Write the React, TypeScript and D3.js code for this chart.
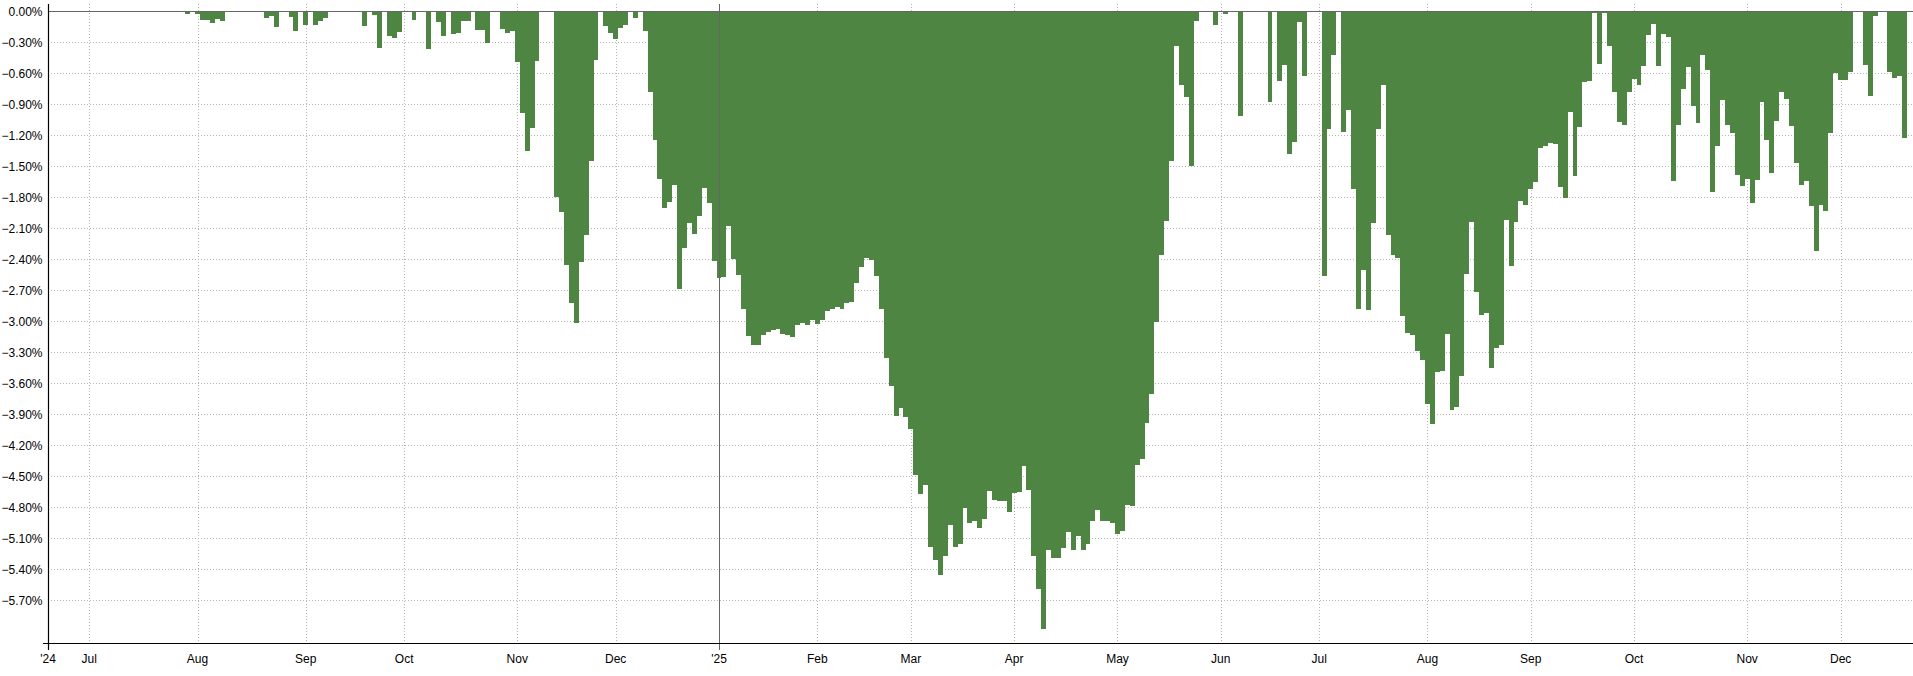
import React from 'react';
import * as d3 from 'd3';

const WIDTH = 1913;
const HEIGHT = 676;

// first trading day shown and exchange holidays (categories are trading days)
const START_DATE = '2024-06-18';
const HOLIDAYS = [
  '2024-06-19', '2024-07-04', '2024-09-02', '2024-11-28', '2024-12-25',
  '2025-01-01', '2025-01-09', '2025-01-20', '2025-02-17', '2025-04-18',
  '2025-05-26', '2025-06-19', '2025-07-04', '2025-09-01', '2025-11-27', '2025-12-25',
];

const MONTH_NAMES = ['Jan', 'Feb', 'Mar', 'Apr', 'May', 'Jun', 'Jul', 'Aug', 'Sep', 'Oct', 'Nov', 'Dec'];

const Y_TICKS = [0, -0.3, -0.6, -0.9, -1.2, -1.5, -1.8, -2.1, -2.4, -2.7, -3.0, -3.3, -3.6, -3.9, -4.2, -4.5, -4.8, -5.1, -5.4, -5.7];

// drawdown in percent, one value per trading day
const DRAWDOWN = [
  0, 0, 0, 0, 0, 0, 0, 0, 0, 0,
  0, 0, 0, 0, 0, 0, 0, 0, 0, 0,
  0, 0, 0, 0, 0, 0, 0, 0, -0.02, 0,
  -0.02, -0.08, -0.08, -0.11, -0.07, -0.09, 0, 0, 0, 0,
  0, 0, 0, 0, -0.06, -0.04, -0.15, 0, 0, -0.05,
  -0.185, 0, -0.13, 0, -0.127, -0.09, -0.06, 0, 0, 0,
  0, 0, 0, 0, -0.137, 0, -0.03, -0.35, 0, -0.234,
  -0.253, -0.195, 0, 0, -0.08, 0, 0, -0.36, 0, -0.1,
  -0.234, 0, -0.215, -0.205, -0.09, -0.09, 0, -0.176, -0.176, -0.3,
  0, 0, -0.166, -0.205, -0.185, -0.485, -0.98, -1.347, -1.124, -0.476,
  0, 0, 0, -1.79, -1.937, -2.453, -2.818, -3.01, -2.421, -2.163,
  -1.447, -0.469, 0, -0.137, -0.205, -0.266, -0.156, -0.127, 0, -0.06,
  0, -0.189, -0.776, -1.24, -1.62, -1.898, -1.84, -1.679, -2.68, -2.285,
  -2.043, -2.15, -1.976, -1.705, -1.85, -2.41, -2.576, -2.566, -2.076, -2.392,
  -2.55, -2.88, -3.14, -3.22, -3.22, -3.13, -3.1, -3.08, -3.07, -3.12,
  -3.13, -3.15, -3.03, -3.01, -3.03, -2.98, -3.02, -2.98, -2.9, -2.875,
  -2.86, -2.88, -2.82, -2.81, -2.62, -2.47, -2.38, -2.4, -2.56, -2.875,
  -3.35, -3.62, -3.91, -3.83, -3.925, -4.04, -4.48, -4.67, -4.58, -5.18,
  -5.31, -5.45, -5.27, -4.97, -5.175, -5.15, -4.8, -4.95, -4.925, -5.0,
  -4.91, -4.64, -4.725, -4.73, -4.73, -4.84, -4.66, -4.65, -4.4, -4.63,
  -5.27, -5.59, -5.975, -5.21, -5.29, -5.29, -5.19, -5.03, -5.21, -5.07,
  -5.21, -5.15, -4.925, -4.82, -4.93, -4.93, -4.95, -5.05, -5.025, -4.775,
  -4.78, -4.39, -4.33, -3.98, -3.7, -3.0, -2.35, -2.02, -1.445, -0.33,
  -0.71, -0.825, -1.49, -0.09, 0, 0, 0, -0.127, 0, -0.02,
  0, 0, -1.01, 0, 0, 0, 0, 0, -0.873, 0,
  -0.67, -0.515, -1.376, -1.26, -0.098, -0.62, 0, 0, 0, -2.556,
  -1.134, -0.418, 0, -1.163, -0.95, -1.715, -2.876, -2.5, -2.885, -2.047,
  -1.137, -0.711, -2.163, -2.356, -2.382, -2.944, -3.108, -3.13, -3.282, -3.369,
  -3.795, -3.99, -3.485, -3.476, -3.118, -3.853, -3.828, -3.524, -2.537, -2.034,
  -2.711, -2.934, -2.918, -3.447, -3.253, -3.224, -2.014, -2.46, -2.034, -1.83,
  -1.87, -1.715, -1.647, -1.318, -1.3, -1.27, -1.28, -1.7, -1.8, -0.973,
  -1.59, -1.115, -0.68, -0.67, -0.01, -0.505, -0.01, -0.33, -0.776, -1.066,
  -1.095, -0.776, -0.65, -0.709, -0.524, -0.224, -0.121, -0.524, -0.218, -0.244,
  -1.637, -1.095, -0.747, -0.537, -0.911, -1.076, -0.421, -0.563, -1.74, -1.3,
  -0.853, -1.098, -1.173, -1.579, -1.685, -1.62, -1.85, -1.627, -0.873, -1.24,
  -1.56, -1.056, -0.776, -0.844, -1.105, -1.463, -1.676, -1.637, -1.879, -2.315,
  -1.87, -1.927, -1.173, -0.592, -0.66, -0.66, -0.579, 0, 0, -0.515,
  -0.815, -0.04, 0, 0, -0.584, -0.64, -0.62, -1.22,
];

function buildTradingDays(start: string, count: number): Date[] {
  const hol = new Set(HOLIDAYS);
  const out: Date[] = [];
  const d = new Date(start + 'T00:00:00Z');
  while (out.length < count) {
    const wd = d.getUTCDay();
    const key = d.toISOString().slice(0, 10);
    if (wd !== 0 && wd !== 6 && !hol.has(key)) out.push(new Date(d.getTime()));
    d.setUTCDate(d.getUTCDate() + 1);
  }
  return out;
}

const FONT = '"Liberation Sans", Arial, sans-serif';

export default function App() {
  const dates = buildTradingDays(START_DATE, DRAWDOWN.length);

  const left = 48;
  const right = WIDTH;
  const top = 4;
  const bottom = 643;

  const x = d3.scaleLinear().domain([-0.39, DRAWDOWN.length + 0.7]).range([left, right]);
  const y = d3.scaleLinear().domain([-6.1086, 0.0755]).range([bottom, top]);

  // month ticks: first trading day of each month
  const ticks: { i: number; label: string; year: boolean }[] = [];
  dates.forEach((d, i) => {
    if (i === 0) return;
    const prev = dates[i - 1];
    if (d.getUTCMonth() !== prev.getUTCMonth()) {
      const m = d.getUTCMonth();
      const isYear = m === 0;
      ticks.push({
        i,
        label: isYear ? "'" + String(d.getUTCFullYear()).slice(2) : MONTH_NAMES[m],
        year: isYear,
      });
    }
  });
  const firstLabel = "'" + String(dates[0].getUTCFullYear()).slice(2);

  const fmt = (v: number) => d3.format('.2f')(v) + '%';
  const y0 = Math.floor(y(0));
  const barColor = '#4f8543';

  return (
    <div style={{ position: 'absolute', left: 0, top: 0, width: WIDTH, height: HEIGHT }}>
      <svg width={WIDTH} height={HEIGHT} style={{ display: 'block' }} fontFamily={FONT}>
        <rect x={0} y={0} width={WIDTH} height={HEIGHT} fill="#fff" />
        {/* horizontal grid */}
        {Y_TICKS.filter((v) => v !== 0).map((v) => {
          const yy = Math.floor(y(v)) + 0.5;
          return (
            <line key={'hg' + v} x1={left} x2={right} y1={yy} y2={yy}
              stroke="#b4b4b4" strokeWidth={1} strokeDasharray="1,2" />
          );
        })}
        {/* vertical grid */}
        {ticks.filter((t) => !t.year).map((t) => {
          const xx = Math.round(x(t.i)) + 0.5;
          return (
            <line key={'vg' + t.i} x1={xx} x2={xx} y1={top} y2={bottom}
              stroke="#b4b4b4" strokeWidth={1} strokeDasharray="1,2" />
          );
        })}
        {/* bars */}
        {DRAWDOWN.map((v, i) => {
          if (v === 0) return null;
          const x1 = Math.round(x(i - 0.5));
          const x2 = Math.round(x(i + 0.5));
          const yb = Math.round(y(v));
          return <rect key={'b' + i} x={x1} y={y0} width={x2 - x1} height={Math.max(1, yb - y0)} fill={barColor} />;
        })}
        {/* zero line */}
        <line x1={left} x2={right} y1={Math.floor(y(0)) + 0.5} y2={Math.floor(y(0)) + 0.5} stroke="#666" strokeWidth={1} />
        {/* year lines */}
        {ticks.filter((t) => t.year).map((t) => {
          const xx = Math.round(x(t.i)) + 0.5;
          return <line key={'yl' + t.i} x1={xx} x2={xx} y1={top} y2={bottom + 7} stroke="#666" strokeWidth={1} />;
        })}
        {/* axes */}
        <line x1={left + 0.5} x2={left + 0.5} y1={top} y2={bottom + 7} stroke="#000" strokeWidth={1.2} />
        <line x1={left - 5} x2={right} y1={bottom + 0.5} y2={bottom + 0.5} stroke="#000" strokeWidth={1.2} />
        {/* y labels */}
        {Y_TICKS.map((v) => (
          <text key={'yt' + v} x={42.5} y={y(v) + 4.5} fontSize={12} textAnchor="end" fill="#000">
            {fmt(v)}
          </text>
        ))}
        {/* x labels */}
        <text x={left} y={663} fontSize={12} textAnchor="middle" fill="#000">{firstLabel}</text>
        {ticks.map((t) => (
          <text key={'xt' + t.i} x={x(t.i)} y={663} fontSize={12} textAnchor="middle" fill="#000">
            {t.label}
          </text>
        ))}
      </svg>
    </div>
  );
}
